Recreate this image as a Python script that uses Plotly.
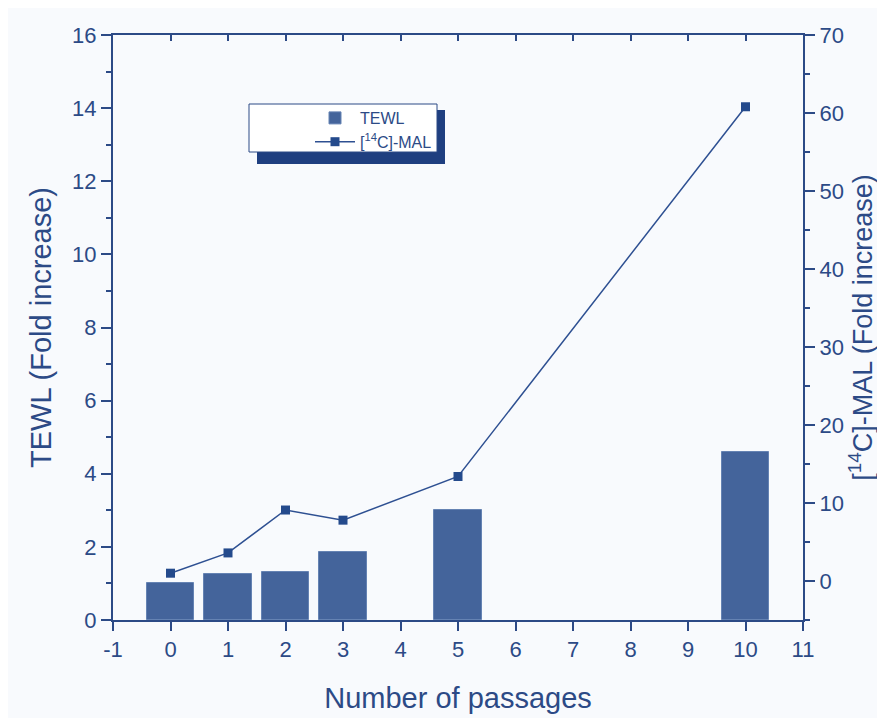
import plotly.graph_objects as go

passages = [0, 1, 2, 3, 5, 10]
tewl = [1.0, 1.25, 1.3, 1.85, 3.0, 4.6]
mal = [1.0, 3.6, 9.1, 7.8, 13.4, 60.8]
x_ticks = list(range(-1, 12))

AX = "#2C4A86"
BAR = "#44649B"
FONT = "Liberation Sans, Arial, sans-serif"

# figure is drawn inside the page's 8px body margin
W, H = 877, 710
L, R, T, B = 105, 82, 27, 98
PW, PH = W - L - R, H - T - B


def px(xf):
    return (xf - 8 - L) / PW


def py(yf):
    return (H - B - (yf - 8)) / PH


fig = go.Figure()
fig.add_trace(go.Bar(
    x=passages, y=tewl, name="TEWL", width=0.82,
    marker=dict(color=BAR, line=dict(color="#6583B3", width=1)),
    yaxis="y", xaxis="x",
))
fig.add_trace(go.Scatter(
    x=passages, y=mal, name="[<sup>14</sup>C]-MAL", mode="lines+markers",
    line=dict(color="#2E5092", width=1.5),
    marker=dict(symbol="square", size=9, color="#244A8C"),
    yaxis="y2", xaxis="x",
))

fig.update_layout(
    width=W, height=H,
    margin=dict(l=L, r=R, t=T, b=B),
    paper_bgcolor="#F8FAFD", plot_bgcolor="#F8FAFD",
    font=dict(family=FONT, color=AX, size=22),
    showlegend=True,
    bargap=0,
    legend=dict(
        x=px(310), y=py(101), xanchor="left", yanchor="top",
        bgcolor="rgba(0,0,0,0)", borderwidth=0,
        font=dict(size=16, color=AX), itemwidth=40,
    ),
    xaxis=dict(
        range=[-1, 11], tickvals=x_ticks, ticktext=[str(v) for v in x_ticks],
        showgrid=False, zeroline=False, showline=True, linecolor=AX, linewidth=2,
        ticks="outside", ticklen=9, tickwidth=2, tickcolor=AX, automargin=False,
        title=dict(text="Number of passages", font=dict(size=29), standoff=26),
        tickfont=dict(size=22),
    ),
    xaxis2=dict(
        range=[-1, 11], tickvals=x_ticks, overlaying="x", side="top",
        showticklabels=False, showgrid=False, zeroline=False,
        showline=True, linecolor=AX, linewidth=2, automargin=False,
        ticks="inside", ticklen=6, tickwidth=1.5, tickcolor=AX,
    ),
    yaxis=dict(
        range=[0, 16], dtick=2, showgrid=False, zeroline=False,
        showline=True, linecolor=AX, linewidth=2, automargin=False,
        ticks="outside", ticklen=10, tickwidth=2, tickcolor=AX,
        minor=dict(dtick=1, ticks="outside", ticklen=5, tickcolor=AX, tickwidth=1.5),
        title=dict(text="TEWL (Fold increase)", font=dict(size=29), standoff=12),
        tickfont=dict(size=22),
    ),
    yaxis2=dict(
        range=[-5, 70], dtick=10, tick0=0, overlaying="y", side="right",
        showgrid=False, zeroline=False, showline=True, linecolor=AX, linewidth=2,
        automargin=False,
        ticks="outside", ticklen=10, tickwidth=2, tickcolor=AX,
        minor=dict(dtick=5, ticks="outside", ticklen=5, tickcolor=AX, tickwidth=1.5),
        title=dict(text="[<sup>14</sup>C]-MAL (Fold increase)", font=dict(size=27), standoff=8),
        tickfont=dict(size=22),
    ),
    shapes=[
        dict(type="rect", xref="paper", yref="paper",
             x0=px(257), x1=px(445), y0=py(164), y1=py(110),
             fillcolor="#1F3F80", line=dict(width=0), layer="above"),
        dict(type="rect", xref="paper", yref="paper",
             x0=px(249), x1=px(437), y0=py(152), y1=py(104),
             fillcolor="white", line=dict(color=AX, width=1), layer="above"),
    ],
)
# invisible trace to activate the top mirror axis
fig.add_trace(go.Scatter(x=[-1], y=[0], xaxis="x2", yaxis="y", showlegend=False,
                         mode="markers", marker=dict(opacity=0), hoverinfo="skip"))

fig.write_html("out.html")
